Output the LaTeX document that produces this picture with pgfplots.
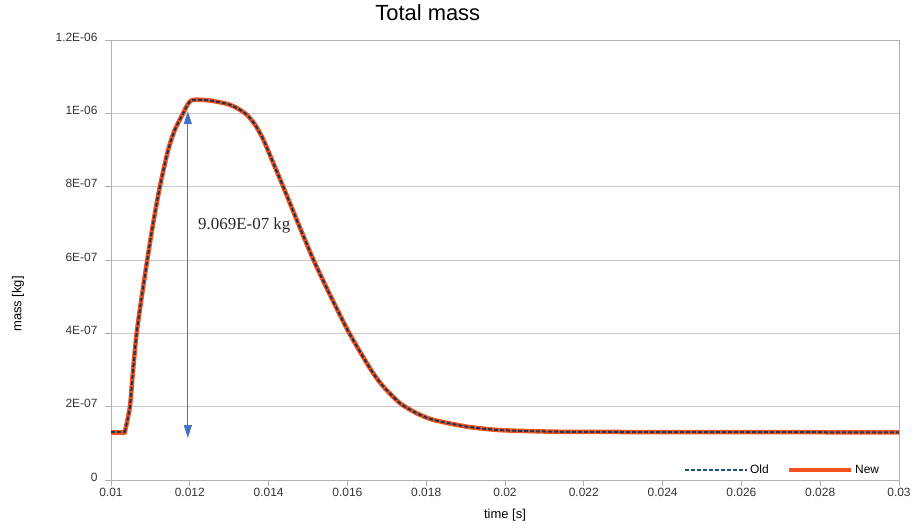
\documentclass[border=0pt]{standalone}
\usepackage{fontspec}
\setmainfont{Liberation Sans}
\newfontfamily\annfont{Liberation Serif}
\usepackage{pgfplots}
\usepackage{pgfplotstable}
\pgfplotsset{compat=1.18}
\usetikzlibrary{arrows.meta}
\definecolor{newc}{HTML}{F4511E}
\definecolor{oldc}{HTML}{1F4E79}
\definecolor{arrc}{HTML}{4472C4}
\definecolor{gridc}{HTML}{C8C8C8}
\definecolor{axc}{HTML}{B0B0B0}

\pgfplotstableread{
t m
0.01000 1.30e-7
0.01035 1.30e-7
}\flattable

\pgfplotstableread{
t m
0.01035 1.30e-7
0.01048 2.00e-7
0.01056 3.00e-7
0.01065 4.00e-7
0.01078 5.00e-7
0.01092 6.00e-7
0.01107 7.00e-7
0.01124 8.00e-7
0.01145 9.00e-7
0.01162 9.55e-7
0.01183 1.000e-6
0.01195 1.025e-6
0.01205 1.036e-6
0.01225 1.037e-6
0.01250 1.035e-6
0.01277 1.030e-6
0.01300 1.024e-6
0.01322 1.013e-6
0.01345 0.996e-6
0.01365 0.970e-6
0.01385 0.932e-6
0.01405 0.882e-6
0.01437 0.800e-6
0.01475 0.700e-6
0.01514 0.600e-6
0.01558 0.500e-6
0.01605 0.400e-6
0.01660 0.300e-6
0.01691 0.255e-6
0.01734 0.209e-6
0.01776 0.182e-6
0.01818 0.164e-6
0.01903 0.1455e-6
0.01987 0.136e-6
0.02114 0.132e-6
0.02241 0.131e-6
0.03000 0.130e-6
}\masstable

\begin{document}
\begin{tikzpicture}
\useasboundingbox (-111bp,-50bp) rectangle (803bp,480bp);
\begin{axis}[
  at={(0,0)}, anchor=south west,
  scale only axis, width=788bp, height=440bp,
  xmin=0.01, xmax=0.03, ymin=0, ymax=1.2e-6,
  scaled ticks=false,
  xtick={0.01,0.012,0.014,0.016,0.018,0.02,0.022,0.024,0.026,0.028,0.03},
  xticklabels={0.01,0.012,0.014,0.016,0.018,0.02,0.022,0.024,0.026,0.028,0.03},
  ytick={0,2e-7,4e-7,6e-7,8e-7,1e-6,1.2e-6},
  yticklabels={0,2E-07,4E-07,6E-07,8E-07,1E-06,1.2E-06},
  tick label style={font=\fontsize{12}{14}\selectfont, text=black!80},
  yticklabel style={xshift=-4bp, yshift=3bp},
  xticklabel style={yshift=1bp},
  ymajorgrids, xmajorgrids=false,
  major grid style={gridc, line width=0.8bp},
  axis line style={axc, line width=0.8bp},
  tick style={axc, line width=0.8bp},
  major tick length=6bp, tick align=outside, tick pos=left,
  title={Total mass},
  title style={font=\fontsize{22}{26}\selectfont, at={(0.402,1)}, anchor=base, yshift=14bp, inner sep=0pt},
  xlabel={time [s]},
  xlabel style={font=\fontsize{13}{15}\selectfont, at={(axis description cs:0.5,-0.0795)}, anchor=center},
  ylabel={mass [kg]},
  ylabel style={font=\fontsize{13}{15}\selectfont, at={(axis description cs:-0.118,0.4)}, anchor=center},
  legend columns=2,
  legend style={draw=none, fill=none, at={(0.9775,0.023)}, anchor=east,
    font=\fontsize{12}{14}\selectfont, inner sep=0pt,
    /tikz/every even column/.append style={column sep=16bp}},
  legend image code/.code={\draw (0bp,0bp) -- (62bp,0bp);},
]
\addlegendimage{oldc, line width=2bp, dash pattern=on 4bp off 2bp}
\addlegendentry{Old}
\addlegendimage{newc, line width=4.5bp}
\addlegendentry{New}
\addplot[forget plot, newc, line width=4.5bp, line cap=round] table[x=t, y=m] {\flattable};
\addplot[forget plot, newc, line width=4.5bp, line join=round, line cap=round, smooth, tension=0.4] table[x=t, y=m] {\masstable};
\addplot[forget plot, oldc!70!black, line width=2bp, dash pattern=on 4bp off 2bp] table[x=t, y=m] {\flattable};
\addplot[forget plot, oldc!70!black, line width=2bp, dash pattern=on 4bp off 2bp, smooth, tension=0.4] table[x=t, y=m] {\masstable};
\draw[arrc, line width=1.2bp, {Triangle[length=13bp,width=8bp]}-{Triangle[length=13bp,width=8bp]}]
  (axis cs:0.01195,1.006e-6) -- (axis cs:0.01195,1.145e-7);
\node[anchor=base west, inner sep=0pt, font=\annfont\fontsize{17}{20}\selectfont, text=black!85]
  at (axis cs:0.012208,6.82e-7) {9.069E-07 kg};
\end{axis}
\end{tikzpicture}
\end{document}
